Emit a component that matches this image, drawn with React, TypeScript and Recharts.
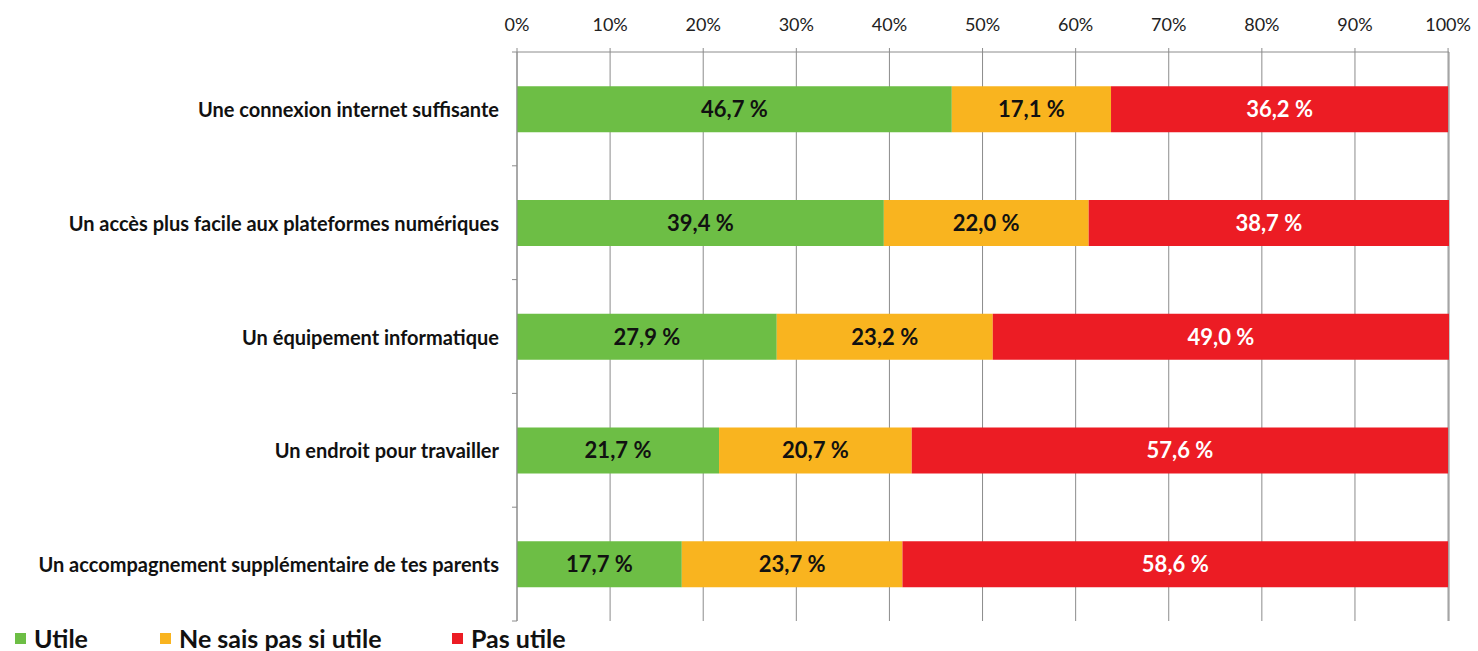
import { Bar, BarChart, CartesianGrid, LabelList, Legend, XAxis, YAxis } from "recharts";

// Aides jugées utiles — barres empilées à 100 %, axe des pourcentages en haut.

const categories = [
  "Une connexion internet suffisante",
  "Un accès plus facile aux plateformes numériques",
  "Un équipement informatique",
  "Un endroit pour travailler",
  "Un accompagnement supplémentaire de tes parents",
];
const utile = [46.7, 39.4, 27.9, 21.7, 17.7];
const neSaisPas = [17.1, 22.0, 23.2, 20.7, 23.7];
const pasUtile = [36.2, 38.7, 49.0, 57.6, 58.6];
const pctTicks = [0, 10, 20, 30, 40, 50, 60, 70, 80, 90, 100];

const series = [
  { key: "utile", name: "Utile", color: "#6dbe45", text: "#111" },
  { key: "neSaisPas", name: "Ne sais pas si utile", color: "#f9b41f", text: "#111" },
  { key: "pasUtile", name: "Pas utile", color: "#ec1c24", text: "#fff" },
];

const data = categories.map((c, i) => ({
  c,
  utile: utile[i],
  neSaisPas: neSaisPas[i],
  pasUtile: pasUtile[i],
}));

const FONT = "Lato, 'Open Sans', sans-serif";
const GRID = "#8c8c8c";
const fmt = (v: number) => `${v.toFixed(1).replace(".", ",")} %`;

// libellé de catégorie + petites graduations aux limites de bande (style Excel)
function CategoryTick(props: any) {
  const { x, y, payload, index, visibleTicksCount } = props;
  const half = payload?.offset ?? 0;
  const last = index === visibleTicksCount - 1;
  return (
    <g>
      <line x1={x - 5} x2={x} y1={y - half} y2={y - half} stroke={GRID} />
      {last && <line x1={x - 5} x2={x} y1={y + half} y2={y + half} stroke={GRID} />}
      <text
        x={x - 18}
        y={y}
        textAnchor="end"
        dominantBaseline="central"
        fill="#111"
        fontSize={20}
        fontWeight={700}
        fontFamily={FONT}
      >
        {payload.value}
      </text>
    </g>
  );
}

function LegendRow() {
  const widths = [145, 292, 160];
  return (
    <div style={{ display: "flex", fontFamily: FONT, fontWeight: 700, fontSize: 25, color: "#111", lineHeight: "26px" }}>
      {series.map((s, i) => (
        <div key={s.key} style={{ width: widths[i], display: "flex", alignItems: "center" }}>
          <span style={{ width: 11, height: 11, background: s.color, marginRight: 8, display: "inline-block" }} />
          {s.name}
        </div>
      ))}
    </div>
  );
}

export default function App() {
  return (
    <div style={{ position: "absolute", left: 0, top: 0, width: 1478, height: 651, background: "#fff" }}>
      <BarChart
        width={1478}
        height={651}
        data={data}
        layout="vertical"
        barCategoryGap="30%"
        margin={{ top: 22, right: 29, bottom: 4, left: 0 }}
      >
        <CartesianGrid stroke={GRID} horizontal={false} />
        <XAxis
          type="number"
          orientation="top"
          domain={[0, 100]}
          ticks={pctTicks}
          tickFormatter={(v: number) => `${v}%`}
          axisLine={{ stroke: GRID }}
          tickLine={{ stroke: GRID }}
          tickSize={4}
          tickMargin={17}
          height={30}
          tick={{ fill: "#222", fontSize: 18, fontFamily: FONT }}
          interval={0}
        />
        <YAxis
          type="category"
          dataKey="c"
          width={517}
          axisLine={{ stroke: GRID }}
          tickLine={false}
          tickSize={0}
          tickMargin={0}
          interval={0}
          tick={<CategoryTick />}
        />
        <Legend
          verticalAlign="bottom"
          align="left"
          content={() => <LegendRow />}
          wrapperStyle={{ left: 15, bottom: 0 }}
        />
        {series.map((s) => (
          <Bar
            key={s.key}
            dataKey={s.key}
            name={s.name}
            stackId="a"
            fill={s.color}
            isAnimationActive={false}
          >
            <LabelList
              dataKey={s.key}
              position="center"
              formatter={(v: number) => fmt(v)}
              fill={s.text}
              style={{ fontSize: 22, fontWeight: 700, fontFamily: FONT }}
            />
          </Bar>
        ))}
      </BarChart>
    </div>
  );
}
